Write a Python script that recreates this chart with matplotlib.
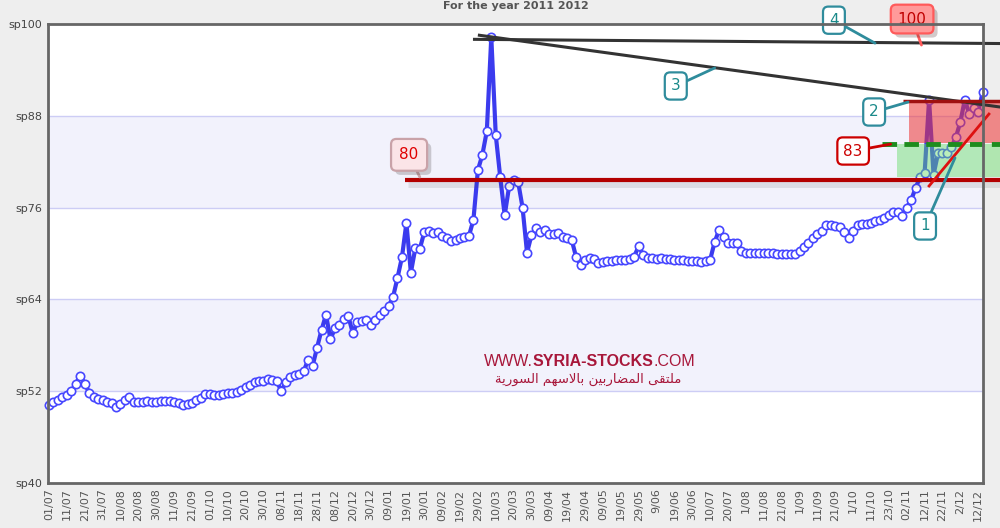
import unicodedata
import numpy as np
import matplotlib
matplotlib.use('Agg')
import matplotlib.pyplot as plt
import matplotlib.patheffects as pe
from matplotlib.patches import Rectangle

title = "For the year 2011 2012"

dates = ['01/07', '11/07', '21/07', '31/07', '10/08', '20/08', '30/08', '11/09',
         '21/09', '01/10', '10/10', '20/10', '30/10', '08/11', '18/11', '28/11',
         '08/12', '20/12', '30/12', '09/01', '19/01', '30/01', '09/02', '19/02',
         '29/02', '10/03', '20/03', '30/03', '09/04', '19/04', '29/04', '09/05',
         '19/05', '29/05', '9/06', '19/06', '30/06', '10/07', '20/07', '1/08',
         '11/08', '21/08', '1/09', '11/09', '21/09', '1/10', '11/10', '23/10',
         '02/11', '12/11', '22/11', '2/12', '12/12']
points_per_label = 4

# index values, 4 readings per date label
prices = [
    50.2, 50.6, 50.9, 51.2,   # 01/07
    51.5, 52.0, 53.0, 54.0,   # 11/07
    53.0, 51.8, 51.2, 51.0,   # 21/07
    50.8, 50.6, 50.5, 49.9,   # 31/07
    50.3, 50.8, 51.2, 50.6,   # 10/08
    50.6, 50.6, 50.7, 50.6,   # 20/08
    50.6, 50.7, 50.7, 50.7,   # 30/08
    50.6, 50.4, 50.2, 50.3,   # 11/09
    50.5, 50.8, 51.1, 51.7,   # 21/09
    51.7, 51.5, 51.5, 51.6,   # 01/10
    51.8, 51.8, 51.9, 52.2,   # 10/10
    52.5, 52.8, 53.2, 53.3,   # 20/10
    53.4, 53.6, 53.5, 53.3,   # 30/10
    52.0, 53.2, 53.9, 54.1,   # 08/11
    54.3, 54.6, 56.1, 55.3,   # 18/11
    57.7, 60.0, 62.0, 58.8,   # 28/11
    60.2, 60.7, 61.5, 61.8,   # 08/12
    59.6, 61.0, 61.2, 61.3,   # 20/12
    60.7, 61.3, 62.0, 62.5,   # 30/12
    63.1, 64.3, 66.8, 69.5,   # 09/01
    74.0, 67.5, 70.7, 70.6,   # 19/01
    72.8, 73.0, 72.7, 72.8,   # 30/01
    72.3, 72.0, 71.7, 71.8,   # 09/02
    72.0, 72.1, 72.3, 74.4,   # 19/02
    80.9, 82.9, 86.0, 98.3,   # 29/02
    85.5, 80.0, 75.0, 78.8,   # 10/03
    79.6, 79.4, 76.0, 70.1,   # 20/03
    72.4, 73.3, 72.8, 73.1,   # 30/03
    72.6, 72.5, 72.7, 72.2,   # 09/04
    72.0, 71.8, 69.5, 68.5,   # 19/04
    69.2, 69.4, 69.3, 68.8,   # 29/04
    68.9, 69.0, 69.0, 69.1,   # 09/05
    69.2, 69.2, 69.3, 69.6,   # 19/05
    71.0, 69.8, 69.4, 69.4,   # 29/05
    69.3, 69.4, 69.3, 69.3,   # 9/06
    69.2, 69.2, 69.1, 69.0,   # 19/06
    69.0, 69.0, 68.9, 69.0,   # 30/06
    69.2, 71.5, 73.1, 72.2,   # 10/07
    71.4, 71.4, 71.4, 70.3,   # 20/07
    70.1, 70.1, 70.1, 70.1,   # 1/08
    70.1, 70.1, 70.1, 70.0,   # 11/08
    70.0, 70.0, 70.0, 70.0,   # 21/08
    70.3, 70.8, 71.4, 72.0,   # 1/09
    72.6, 73.0, 73.7, 73.7,   # 11/09
    73.6, 73.5, 72.8, 72.0,   # 21/09
    73.0, 73.7, 73.8, 73.8,   # 1/10
    74.0, 74.2, 74.4, 74.6,   # 11/10
    75.0, 75.4, 75.4, 74.9,   # 23/10
    76.0, 77.0, 78.6, 80.0,   # 02/11
    80.5, 90.1, 80.3, 83.1,   # 12/11
    83.1, 83.2, 83.9, 85.2,   # 22/11
    87.2, 90.1, 88.2, 89.0,   # 2/12
    88.5, 91.1,               # 12/12
]

y_ticks = [40, 52, 64, 76, 88, 100]
bands = [(52, 64), (76, 88)]

# drawn analysis: (x in reading index, level)
support_80 = [(79.7, 79.6), (212.9, 79.6)]
line_4 = [(94.9, 98.0), (212.9, 97.45)]
line_3 = [(96.0, 98.56), (212.9, 89.15)]
line_2 = [(191.2, 89.93), (212.9, 89.93)]
line_83 = [(186.5, 84.31), (212.9, 84.31)]
trend_1 = [(196.8, 78.69), (210.6, 88.37)]
red_zone = (192.5, 212.9, 84.44, 89.93)
green_zone = (189.8, 212.9, 80.0, 84.31)

callout_labels = ['80', '4', '100', '3', '2', '83', '1']
callout_at = [(80.6, 82.9), (175.7, 100.5), (193.2, 100.65), (140.3, 91.9),
              (184.7, 88.5), (180.0, 83.4), (196.1, 73.6)]
callout_to = [(83.0, 80.0), (184.9, 97.5), (195.3, 97.25), (149.0, 94.25),
              (192.3, 89.8), (188.4, 84.3), (202.8, 82.5)]

site = ['WWW.', 'SYRIA-STOCKS', '.COM']
arabic = 'ملتقى المضاربين بالاسهم السورية'


def shape_arabic(s):
    # crude contextual shaping + visual reversal for matplotlib
    right_only = set('اأإآدذرزوؤةىء')
    is_ar = lambda c: '\u0621' <= c <= '\u064a'
    out = []
    i = 0
    while i < len(s):
        ch = s[i]
        if not is_ar(ch):
            out.append(ch)
            i += 1
            continue
        prev = s[i - 1] if i > 0 else ' '
        jp = is_ar(prev) and prev not in right_only
        if ch == 'ل' and i + 1 < len(s) and s[i + 1] == 'ا':
            name = 'ARABIC LIGATURE LAM WITH ALEF ' + ('FINAL FORM' if jp else 'ISOLATED FORM')
            out.append(unicodedata.lookup(name))
            i += 2
            continue
        nxt = s[i + 1] if i + 1 < len(s) else ' '
        jn = ch not in right_only and is_ar(nxt)
        form = {(True, True): ' MEDIAL FORM', (True, False): ' FINAL FORM',
                (False, True): ' INITIAL FORM', (False, False): ' ISOLATED FORM'}[(jp, jn)]
        try:
            out.append(unicodedata.lookup(unicodedata.name(ch) + form))
        except KeyError:
            out.append(ch)
        i += 1
    return ''.join(reversed(out))


fig = plt.figure(figsize=(10, 5.28), dpi=100, facecolor='#eeeeee')
ax = fig.add_axes((0.0475, 0.0852, 0.9355, 0.8693))
ax.set_facecolor('white')

x = np.arange(len(prices))
ax.set_xlim(-0.34, 209.07)
ax.set_ylim(40, 100)

for lo, hi in bands:
    ax.axhspan(lo, hi, color='#f2f2fc', zorder=0, lw=0)
for yv in y_ticks[1:-1]:
    ax.axhline(yv, color='#cdcdf5', lw=1, zorder=1)

ax.plot(x, prices, color='#3b3bee', lw=3, marker='o', ms=6, mfc='white',
        mec='#4646ff', mew=1.2, zorder=3, clip_on=False)

# zones
ax.add_patch(Rectangle((red_zone[0], red_zone[2]), red_zone[1] - red_zone[0],
                       red_zone[3] - red_zone[2], facecolor='#ee3333', alpha=0.55,
                       lw=0, zorder=4, clip_on=False))
ax.add_patch(Rectangle((green_zone[0], green_zone[2]), green_zone[1] - green_zone[0],
                       green_zone[3] - green_zone[2], facecolor='#66dd66', alpha=0.45,
                       lw=0, zorder=4, clip_on=False))


def seg(pts, **kw):
    xs, ys = zip(*pts)
    return ax.plot(xs, ys, clip_on=False, solid_capstyle='butt', **kw)


seg(support_80, color='#b30000', lw=3, zorder=5,
    path_effects=[pe.SimpleLineShadow(offset=(2, -3), alpha=0.12, shadow_color='#444444',
                                      linewidth=5), pe.Normal()])
seg(line_4, color='#333333', lw=2.2, zorder=5)
seg(line_3, color='#333333', lw=2.2, zorder=5)
seg(line_2, color='#a01010', lw=2.5, zorder=5)
seg(line_83, color='#1e8c1e', lw=3.5, ls=(0, (3, 1.5)), zorder=5)
seg(trend_1, color='#dd1111', lw=2, zorder=5)

styles = {
    '80': ('#fbe4e7', '#c9a2a8', '#e00000', 0.55),
    '100': ('#ff9a9a', '#ff5a5a', '#c00000', 0.45),
    '83': ('white', '#cc0000', '#cc0000', 0.4),
}
for lab, at, to in zip(callout_labels, callout_at, callout_to):
    face, edge, tc, pad = styles.get(lab, ('white', '#2f8c9c', '#1b8a8a', 0.4))
    t = ax.annotate(lab, xy=to, xytext=at, ha='center', va='center', fontsize=11,
                    color=tc, annotation_clip=False, zorder=6,
                    bbox=dict(boxstyle='round,pad=%s,rounding_size=0.35' % pad,
                              fc=face, ec=edge, lw=1.6),
                    arrowprops=dict(arrowstyle='-', color=edge, lw=2, shrinkA=0, shrinkB=0))
    if lab in ('80', '100'):
        t.get_bbox_patch().set_path_effects([pe.withSimplePatchShadow(offset=(3, -3), alpha=0.25)])

ax.set_xticks(np.arange(len(dates)) * points_per_label)
ax.set_xticklabels(dates, rotation=90, fontsize=8, color='#555555')
ax.set_yticks(y_ticks)
ax.set_yticklabels(['sp%d' % v for v in y_ticks], fontsize=8, color='#444444')
ax.tick_params(length=0, pad=4)
for s in ax.spines.values():
    s.set_color('#666666')
    s.set_linewidth(2)
    s.set_zorder(7)

fig.text(0.516, 0.989, title, ha='center', va='center', fontsize=8,
         fontweight='bold', color='#555555')

wm = '#a8173a'
t1 = fig.text(0.484, 0.3068, site[0], fontsize=11.5, color=wm, family='Liberation Sans')
t2 = ax.annotate(site[1], xy=(1, 0), xycoords=t1, va='bottom', fontsize=11.5,
                 fontweight='bold', color=wm, family='Liberation Sans')
ax.annotate(site[2], xy=(1, 0), xycoords=t2, va='bottom', fontsize=11.5,
            color=wm, family='Liberation Sans')
fig.text(0.588, 0.282, shape_arabic(arabic), ha='center', va='center',
         fontsize=9.5, color=wm, family='DejaVu Sans')

fig.savefig('out.png', dpi=100, facecolor=fig.get_facecolor())
